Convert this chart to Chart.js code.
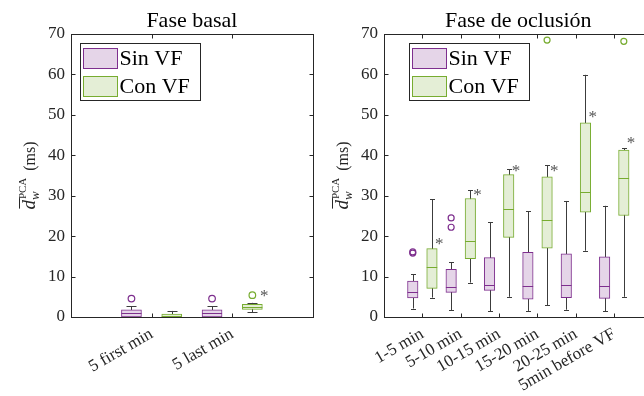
<!DOCTYPE html>
<html>
<head>
<meta charset="utf-8">
<script src="https://cdn.jsdelivr.net/npm/chart.js@4.4.0/dist/chart.umd.min.js"></script>
<style>
  html, body { margin: 0; padding: 0; background: #fff; width: 644px; height: 396px; overflow: hidden; }
  .wrap { position: absolute; top: 0; height: 396px; }
  #wrapL { left: 0; width: 330px; }
  #wrapR { left: 300px; width: 380px; }
</style>
</head>
<body>
<div class="wrap" id="wrapL"><canvas id="basal" width="330" height="396"></canvas></div>
<div class="wrap" id="wrapR"><canvas id="oclusion" width="380" height="396"></canvas></div>
<script>
// === Data ===
const seriesNames = ["Sin VF", "Con VF"];
const yTicks = [0, 10, 20, 30, 40, 50, 60, 70];

// Fase basal
const basalCats = ["5 first min", "5 last min"];
const basalSinMin = [0, 0];
const basalSinQ1  = [0, 0];
const basalSinMed = [0.9, 0.9];
const basalSinQ3  = [1.8, 1.8];
const basalSinMax = [2.65, 2.65];
const basalSinOut = [[4.55], [4.55]];
const basalConMin = [0, 1.15];
const basalConQ1  = [0.05, 1.85];
const basalConMed = [0.35, 2.5];
const basalConQ3  = [0.7, 3.15];
const basalConMax = [1.5, 3.5];
const basalConOut = [[], [5.4]];
const basalStars  = [null, 6.2];

// Fase de oclusion
const oclCats = ["1-5 min", "5-10 min", "10-15 min", "15-20 min", "20-25 min", "5min before VF"];
const oclSinMin = [2.1, 1.7, 1.4, 1.5, 1.8, 1.4];
const oclSinQ1  = [4.7, 6.1, 6.6, 4.4, 4.8, 4.6];
const oclSinMed = [6.2, 7.5, 7.9, 7.7, 7.8, 7.6];
const oclSinQ3  = [8.9, 11.8, 14.7, 16.0, 15.6, 14.9];
const oclSinMax = [10.6, 13.5, 23.5, 26.2, 28.7, 27.5];
const oclSinOut = [[15.8, 16.1], [22.2, 24.5], [], [], [], []];
const oclConMin = [4.8, 8.5, 5.0, 2.9, 16.4, 5.0];
const oclConQ1  = [7.1, 14.4, 19.7, 17.0, 25.9, 25.1];
const oclConMed = [12.4, 18.7, 26.6, 23.9, 30.9, 34.3];
const oclConQ3  = [16.9, 29.3, 35.2, 34.7, 48.0, 41.3];
const oclConMax = [29.1, 31.3, 36.6, 37.6, 59.9, 41.8];
const oclConOut = [[], [], [], [68.5], [], [68.2]];
const oclStars  = [19.1, 31.2, 37.2, 37.0, 50.5, 44.1];

// === Styles ===
const SERIF = "'Liberation Serif', 'DejaVu Serif', serif";
const AXIS = "#262626";
const WHISK = "#3c3c3c";
const lineCol = ["#7E2F8E", "#77AC30"];
const fillCol = ["#E5D5E8", "#E4EED6"];
const OFFSET = 0.25;

function boxData(q1, q3, off) {
  return q1.map((v, i) => ({ x: i + 1 + off, y: [v, q3[i]] }));
}
function outData(outs, off) {
  const pts = [];
  outs.forEach((arr, i) => arr.forEach(v => pts.push({ x: i + 1 + off, y: v })));
  return pts;
}

// draws whiskers, caps, medians, stars, frame, ticks, title, ylabel, legend
function extrasPlugin(s) {
  return {
    id: "extras",
    beforeDatasetsDraw(chart) {
      const { ctx, scales: { x, y } } = chart;
      ctx.save();
      ctx.strokeStyle = WHISK;
      ctx.lineWidth = 1;
      s.groups.forEach(g => {
        g.min.forEach((mn, i) => {
          const cx = Math.round(x.getPixelForValue(i + 1 + g.off)) + 0.5;
          const y0 = y.getPixelForValue(mn), y1 = y.getPixelForValue(g.max[i]);
          ctx.beginPath();
          ctx.moveTo(cx, y0); ctx.lineTo(cx, y1);
          ctx.moveTo(cx - s.capW / 2, Math.round(y0) + 0.5); ctx.lineTo(cx + s.capW / 2, Math.round(y0) + 0.5);
          ctx.moveTo(cx - s.capW / 2, Math.round(y1) + 0.5); ctx.lineTo(cx + s.capW / 2, Math.round(y1) + 0.5);
          ctx.stroke();
        });
      });
      ctx.restore();
    },
    afterDatasetsDraw(chart) {
      const { ctx, scales: { x, y } } = chart;
      ctx.save();
      s.groups.forEach((g, k) => {
        ctx.strokeStyle = lineCol[k];
        ctx.lineWidth = 1;
        g.med.forEach((m, i) => {
          const cx = x.getPixelForValue(i + 1 + g.off);
          const py = Math.round(y.getPixelForValue(m)) + 0.5;
          ctx.beginPath();
          ctx.moveTo(cx - s.boxW / 2, py); ctx.lineTo(cx + s.boxW / 2, py);
          ctx.stroke();
        });
      });
      // significance stars next to Con VF boxes
      ctx.fillStyle = "#555";
      ctx.font = "17px " + SERIF;
      ctx.textAlign = "center";
      ctx.textBaseline = "alphabetic";
      s.stars.forEach((v, i) => {
        if (v == null) return;
        const cx = x.getPixelForValue(i + 1 + OFFSET) + s.boxW / 2 + 2;
        ctx.fillText("*", cx, y.getPixelForValue(v) + 9);
      });
      ctx.restore();
    },
    afterDraw(chart) {
      const { ctx, chartArea: a, scales: { x, y } } = chart;
      const L = Math.round(a.left) + 0.5, R = Math.round(a.right) + 0.5;
      const T = Math.round(a.top) + 0.5, B = Math.round(a.bottom) + 0.5;
      ctx.save();
      ctx.strokeStyle = AXIS;
      ctx.lineWidth = 1;
      ctx.strokeRect(L, T, R - L, B - T);
      ctx.beginPath();
      yTicks.forEach(v => {
        const py = Math.round(y.getPixelForValue(v)) + 0.5;
        ctx.moveTo(L, py); ctx.lineTo(L + 4, py);
        ctx.moveTo(R, py); ctx.lineTo(R - 4, py);
      });
      s.cats.forEach((c, i) => {
        const px = Math.round(x.getPixelForValue(i + 1)) + 0.5;
        ctx.moveTo(px, B); ctx.lineTo(px, B - 4);
        ctx.moveTo(px, T); ctx.lineTo(px, T + 4);
      });
      ctx.stroke();

      // title
      ctx.fillStyle = "#000";
      ctx.font = "22px " + SERIF;
      ctx.textAlign = "center";
      ctx.textBaseline = "alphabetic";
      ctx.fillText(s.title, (a.left + a.right) / 2, 27);

      // y label: d-bar_w^PCA (ms)
      ctx.save();
      ctx.translate(a.left - 36, (a.top + a.bottom) / 2);
      ctx.rotate(-Math.PI / 2);
      ctx.fillStyle = AXIS;
      ctx.textAlign = "left";
      const fD = "italic 19px " + SERIF, fSub = "italic 13px " + SERIF,
            fSup = "11px " + SERIF, fMs = "16px " + SERIF;
      ctx.font = fD; const wD = ctx.measureText("d").width;
      ctx.font = fSub; const wW = ctx.measureText("w").width;
      ctx.font = fSup; const wP = ctx.measureText("PCA").width;
      ctx.font = fMs; const wM = ctx.measureText("(ms)").width;
      const gap = 8;
      const total = wD + Math.max(wW, wP) + gap + wM;
      let cx = -total / 2;
      ctx.font = fD; ctx.fillText("d", cx, 0);
      ctx.beginPath(); ctx.lineWidth = 1; ctx.strokeStyle = AXIS;
      ctx.moveTo(cx + 1, -15.5); ctx.lineTo(cx + wD + 2, -15.5); ctx.stroke();
      cx += wD;
      ctx.font = fSub; ctx.fillText("w", cx, 4);
      ctx.font = fSup; ctx.fillText("PCA", cx + 1, -9);
      cx += Math.max(wW, wP) + gap;
      ctx.font = fMs; ctx.fillText("(ms)", cx, 0);
      ctx.restore();

      // legend
      const lx = Math.round(a.left + s.legX) + 0.5, ly = Math.round(a.top + 9) + 0.5;
      ctx.fillStyle = "#fff";
      ctx.fillRect(lx, ly, 120, 57);
      ctx.strokeStyle = AXIS;
      ctx.strokeRect(lx, ly, 120, 57);
      ctx.font = "22px " + SERIF;
      ctx.textAlign = "left";
      ctx.textBaseline = "middle";
      seriesNames.forEach((n, k) => {
        const sy = ly + 5 + k * 28;
        ctx.fillStyle = fillCol[k];
        ctx.fillRect(lx + 3, sy, 34, 20);
        ctx.strokeStyle = lineCol[k];
        ctx.strokeRect(lx + 3, sy, 34, 20);
        ctx.fillStyle = "#000";
        ctx.fillText(n, lx + 39, sy + 11);
      });
      ctx.restore();
    }
  };
}

function makeChart(id, s) {
  const datasets = [];
  s.groups.forEach((g, k) => {
    datasets.push({
      type: "bar",
      label: seriesNames[k],
      data: boxData(g.q1, g.q3, g.off),
      backgroundColor: fillCol[k],
      borderColor: lineCol[k],
      borderWidth: 1,
      borderSkipped: false,
      barThickness: s.boxW,
      grouped: false,
      order: 2
    });
  });
  s.groups.forEach((g, k) => {
    datasets.push({
      type: "scatter",
      label: seriesNames[k] + " outliers",
      data: outData(g.out, g.off),
      pointStyle: "circle",
      pointRadius: s.outR,
      pointBorderWidth: 1.2,
      backgroundColor: "rgba(0,0,0,0)",
      borderColor: lineCol[k],
      order: 1
    });
  });

  return new Chart(document.getElementById(id), {
    type: "bar",
    data: { datasets },
    options: {
      responsive: false,
      animation: false,
      layout: { padding: { top: 34, right: s.padRight, bottom: 0, left: 0 } },
      plugins: { legend: { display: false }, tooltip: { enabled: false } },
      scales: {
        x: {
          type: "linear",
          offset: false,
          min: 0,
          max: s.cats.length + 1,
          afterFit: sc => { sc.height = 79; },
          grid: { display: false, drawTicks: false, offset: false },
          border: { display: false },
          ticks: {
            stepSize: 1,
            autoSkip: false,
            maxRotation: 30,
            minRotation: 30,
            padding: 7,
            color: AXIS,
            font: { family: SERIF, size: 17 },
            callback: v => (Number.isInteger(v) && s.cats[v - 1]) ? s.cats[v - 1] : ""
          }
        },
        y: {
          min: 0,
          max: 70,
          afterFit: sc => { sc.width = s.yW; },
          grid: { display: false, drawTicks: false },
          border: { display: false },
          ticks: {
            stepSize: 10,
            padding: 6,
            color: AXIS,
            font: { family: SERIF, size: 17 }
          }
        }
      }
    },
    plugins: [extrasPlugin(s)]
  });
}

makeChart("basal", {
  title: "Fase basal",
  cats: basalCats,
  yW: 71, padRight: 16, boxW: 20, capW: 10, outR: 3.3, legX: 9,
  stars: basalStars,
  groups: [
    { off: -OFFSET, min: basalSinMin, q1: basalSinQ1, med: basalSinMed, q3: basalSinQ3, max: basalSinMax, out: basalSinOut },
    { off: OFFSET, min: basalConMin, q1: basalConQ1, med: basalConMed, q3: basalConQ3, max: basalConMax, out: basalConOut }
  ]
});

makeChart("oclusion", {
  title: "Fase de oclusión",
  cats: oclCats,
  yW: 84, padRight: 27.4, boxW: 10.5, capW: 5, outR: 3, legX: 25,
  stars: oclStars,
  groups: [
    { off: -OFFSET, min: oclSinMin, q1: oclSinQ1, med: oclSinMed, q3: oclSinQ3, max: oclSinMax, out: oclSinOut },
    { off: OFFSET, min: oclConMin, q1: oclConQ1, med: oclConMed, q3: oclConQ3, max: oclConMax, out: oclConOut }
  ]
});
</script>
</body>
</html>
